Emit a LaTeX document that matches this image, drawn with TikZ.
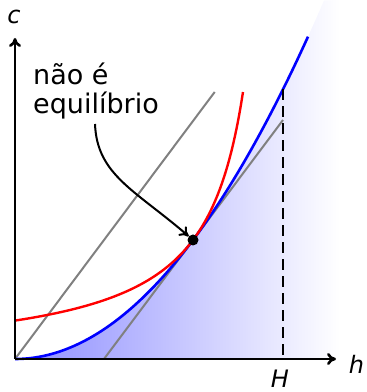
\documentclass[tikz,border=0pt]{standalone}
\usepackage{fontspec}
\setmainfont{DejaVu Sans}
\usetikzlibrary{arrows.meta}
\begin{document}
\begin{tikzpicture}[x=1pt,y=1pt,
  axis/.style={line width=2.6pt, -{To[length=9pt,width=12pt]}},
  bluecurve/.style={blue, line width=2.6pt},
  redcurve/.style={red, line width=2.4pt},
  grayline/.style={gray, line width=2pt},
  guide/.style={black, line width=2.4pt, dash pattern=on 11pt off 6pt},
  lab/.style={font=\fontsize{24}{28}\selectfont\itshape, inner sep=0pt},
  note/.style={font=\fontsize{27}{30}\selectfont, align=left, inner sep=0pt},
  pointer/.style={black, line width=2pt, -{To[length=9pt,width=12pt]}},
]
\useasboundingbox (0,0) rectangle (367,392);
\begin{scope}[shift={(15,33)}]
  \coordinate (O) at (0,0);
  \coordinate (xend) at (321,0);
  \coordinate (yend) at (0,321);
  % feasible region
  \shade[left color=blue!45, right color=white]
    (0,0) -- plot[domain=0:309, samples=100] (\x,{(\x/16.32)^2}) -- (325,359) -- (325,0) -- cycle;
  % gray lines
  \coordinate (g1a) at (0,0);
  \coordinate (g1b) at (199.7,267);
  \coordinate (g2a) at (89,0);
  \coordinate (g2b) at (268,239);
  \draw[grayline] (g1a) -- (g1b);
  \draw[grayline] (g2a) -- (g2b);
  % curves
  \draw[bluecurve] plot[domain=0:293, samples=100] (\x,{(\x/16.32)^2});
  \draw[redcurve] plot[domain=0:228, samples=120] (\x,{11120/(269.2-\x)-2.9});
  % H
  \coordinate (Htop) at (268,269.7);
  \coordinate (Hbot) at (268,0);
  \draw[guide] (Htop) -- (Hbot);
  % axes
  \draw[axis] (O) -- (xend);
  \draw[axis] (O) -- (yend);
  % equilibrium point
  \node[circle, fill=black, inner sep=0pt, minimum size=11pt] (eq) at (178,119) {};
  \coordinate (s) at (80,235);
  \draw[pointer] (s) .. controls (82,184) and (120,169) .. (eq);
\end{scope}
\node[lab, anchor=base] (hl) at (356.5,19) {h};
\node[lab, anchor=base] (cl) at (14,368) {c};
\node[lab, anchor=north] (Hl) at (280,22) {H};
\node[note, anchor=base west] (txt) at (33,278) {não é\\equilíbrio};
\end{tikzpicture}
\end{document}
